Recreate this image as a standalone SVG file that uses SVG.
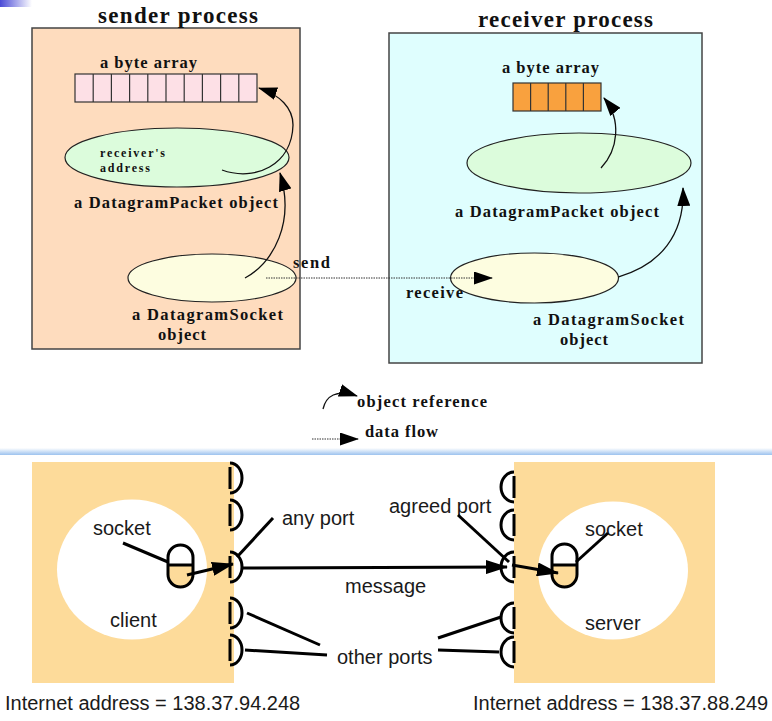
<svg xmlns="http://www.w3.org/2000/svg" width="772" height="721" viewBox="0 0 772 721">
<style>
.serif{font-family:"Liberation Serif","Times New Roman",serif;font-weight:bold;fill:#111}
.t1{font-size:23px}
.t2{font-size:16.5px}
.t3{font-size:12px}
.sans{font-family:"Liberation Sans",Arial,sans-serif;font-size:20px;fill:#1a1a1a}
.box{stroke:#444;stroke-width:1.5}
.ell{stroke:#222;stroke-width:1.2}
.cell{stroke:#333;stroke-width:1.2}
.ref{fill:none;stroke:#111;stroke-width:1.3}
.flow{fill:none;stroke:#333;stroke-width:1;stroke-dasharray:1.5,1}
.port{fill:none;stroke:#000;stroke-width:3}
.thick{fill:none;stroke:#000;stroke-width:3}
</style>
<defs>
<linearGradient id="corner" x1="0" y1="0" x2="1" y2="0">
<stop offset="0" stop-color="#4a4ad6"/>
<stop offset="1" stop-color="#ffffff"/>
</linearGradient>
<linearGradient id="sep" x1="0" y1="0" x2="0" y2="1">
<stop offset="0" stop-color="#ffffff"/>
<stop offset="1" stop-color="#9cc2ee"/>
</linearGradient>
<marker id="ah" viewBox="0 0 19 13" refX="18" refY="6.5" markerWidth="19" markerHeight="13" markerUnits="userSpaceOnUse" orient="auto">
<path d="M0,0 L19,6.5 L0,13 Z" fill="#000"/>
</marker>
<marker id="ahb" viewBox="0 0 22 14" refX="21" refY="7" markerWidth="22" markerHeight="14" markerUnits="userSpaceOnUse" orient="auto">
<path d="M0,0 L22,7 L0,14 Z" fill="#000"/>
</marker>
</defs>

<rect x="0" y="0" width="32" height="7" fill="url(#corner)"/>

<g id="sender">
<rect class="box" x="32" y="28" width="268" height="321" fill="#fedcbe"/>
<text class="serif t1" x="98" y="23" textLength="160" lengthAdjust="spacing">sender process</text>
</g>
<g id="sender-bytes">
<text class="serif t2" x="100" y="68" textLength="97" lengthAdjust="spacing">a byte array</text>
<rect class="cell" x="75" y="74" width="182" height="28" fill="#fde0e6"/>
<path class="cell" d="M93.2,74V102M111.4,74V102M129.6,74V102M147.8,74V102M166,74V102M184.2,74V102M202.4,74V102M220.6,74V102M238.8,74V102"/>
</g>
<g id="sender-packet">
<ellipse class="ell" cx="177" cy="157.5" rx="112" ry="29.5" fill="#dcfcdc"/>
<text class="serif t3" x="100" y="157" textLength="65" lengthAdjust="spacing">receiver's</text>
<text class="serif t3" x="100" y="172" textLength="50" lengthAdjust="spacing">address</text>
<text class="serif t2" x="74" y="208" textLength="204" lengthAdjust="spacing">a DatagramPacket object</text>
</g>
<g id="sender-socket">
<ellipse class="ell" cx="212" cy="278" rx="84" ry="24" fill="#fdfde0"/>
<text class="serif t2" x="132" y="320" textLength="151" lengthAdjust="spacing">a DatagramSocket</text>
<text class="serif t2" x="158" y="340" textLength="48" lengthAdjust="spacing">object</text>
</g>

<g id="receiver">
<rect class="box" x="389" y="33" width="313" height="330" fill="#dffefe"/>
<text class="serif t1" x="478" y="27" textLength="175" lengthAdjust="spacing">receiver process</text>
</g>
<g id="receiver-bytes">
<text class="serif t2" x="502" y="73" textLength="97" lengthAdjust="spacing">a byte array</text>
<rect class="cell" x="513" y="83" width="88" height="28" fill="#f9a13e"/>
<path class="cell" d="M530.6,83V111M548.2,83V111M565.8,83V111M583.4,83V111"/>
</g>
<g id="receiver-packet">
<ellipse class="ell" cx="579" cy="163" rx="112" ry="30" fill="#dcfcdc"/>
<text class="serif t2" x="455" y="217" textLength="204" lengthAdjust="spacing">a DatagramPacket object</text>
</g>
<g id="receiver-socket">
<ellipse class="ell" cx="534.5" cy="278" rx="84" ry="25" fill="#fdfde0"/>
<text class="serif t2" x="533" y="325" textLength="151" lengthAdjust="spacing">a DatagramSocket</text>
<text class="serif t2" x="560" y="345" textLength="48" lengthAdjust="spacing">object</text>
</g>

<g id="legend">
<text class="serif t2" x="357" y="407" textLength="130" lengthAdjust="spacing">object reference</text>
<text class="serif t2" x="365" y="437" textLength="73" lengthAdjust="spacing">data flow</text>
</g>

<g id="connectors">
<path class="ref" d="M245,278 C274,262 295,222 280,173" marker-end="url(#ah)"/>
<path class="ref" d="M222,170 C255,182 292,165 293,125 C293,108 280,95 259,88" marker-end="url(#ah)"/>
<path class="ref" d="M601,168 C618,150 622,120 604,98" marker-end="url(#ah)"/>
<path class="ref" d="M618,277 C660,265 685,235 683,188" marker-end="url(#ah)"/>
<path class="flow" d="M266,278 H492" marker-end="url(#ah)"/>
<text class="serif t2" x="293" y="268" textLength="37" lengthAdjust="spacing">send</text>
<text class="serif t2" x="406" y="298" textLength="57" lengthAdjust="spacing">receive</text>
<path class="ref" d="M323,409 C326,396 336,389 357,396" marker-end="url(#ah)"/>
<path class="flow" d="M312,439 H358" marker-end="url(#ah)"/>
</g>

<rect x="0" y="448" width="772" height="7" fill="url(#sep)"/>

<g id="client-host">
<rect x="32" y="462" width="202" height="221" fill="#fddb9a"/>
<ellipse cx="132" cy="569.5" rx="75" ry="70" fill="#fff"/>
<text class="sans" x="93" y="535">socket</text>
<text class="sans" x="110" y="627">client</text>
<text class="sans" x="5" y="710">Internet address = 138.37.94.248</text>
</g>
<g id="client-socket">
<path d="M168,565 H193 V574.5 A12.5,12.5 0 0 1 168,574.5 Z" fill="#fddb9a"/>
<rect class="thick" x="168" y="545" width="25" height="42" rx="12.5"/>
<path class="thick" d="M168,565 H193"/>
</g>
<g id="client-ports">
<path class="port" d="M230,467V489M230,463A12,15 0 0 1 230,493"/>
<path class="port" d="M230,504V526M230,500A12,15 0 0 1 230,530"/>
<path class="port" d="M230,556V578M230,552A12,15 0 0 1 230,582"/>
<path class="port" d="M230,602V624M230,598A12,15 0 0 1 230,628"/>
<path class="port" d="M230,639V661M230,635A12,15 0 0 1 230,665"/>
</g>

<g id="server-host">
<rect x="514" y="462" width="201" height="221" fill="#fddb9a"/>
<ellipse cx="613" cy="570.5" rx="75" ry="69" fill="#fff"/>
<text class="sans" x="585" y="536">socket</text>
<text class="sans" x="585" y="630">server</text>
<text class="sans" x="473" y="710">Internet address = 138.37.88.249</text>
</g>
<g id="server-socket">
<path d="M552,565 H577 V574.5 A12.5,12.5 0 0 1 552,574.5 Z" fill="#fddb9a"/>
<rect class="thick" x="552" y="544" width="25" height="43" rx="12.5"/>
<path class="thick" d="M552,565 H577"/>
</g>
<g id="server-ports">
<path class="port" d="M514,476V498M514,472A13,15 0 0 0 514,502"/>
<path class="port" d="M514,514V536M514,510A13,15 0 0 0 514,540"/>
<path class="port" d="M514,556V578M514,552A13,15 0 0 0 514,582"/>
<path class="port" d="M514,607V629M514,603A13,15 0 0 0 514,633"/>
<path class="port" d="M514,641V663M514,637A13,15 0 0 0 514,667"/>
</g>

<g id="labels">
<text class="sans" x="282" y="525">any port</text>
<text class="sans" x="389" y="513">agreed port</text>
<text class="sans" x="345" y="593">message</text>
<text class="sans" x="337" y="664">other ports</text>
</g>

<g id="connectors-bottom">
<path class="thick" d="M123,543 L168,562"/>
<path class="thick" d="M187,575 L233,564" marker-end="url(#ahb)"/>
<path class="thick" d="M237,557 L273,518"/>
<path class="thick" d="M243,568 L507,567" marker-end="url(#ahb)"/>
<path class="thick" d="M247,613 L320,645"/>
<path class="thick" d="M245,650 L327,655"/>
<path class="thick" d="M458,515 L509,562"/>
<path class="thick" d="M512,565 L558,573" marker-end="url(#ahb)"/>
<path class="thick" d="M576,562 L608,533"/>
<path class="thick" d="M438,638 L501,617"/>
<path class="thick" d="M438,650 L499,652"/>
</g>
</svg>
